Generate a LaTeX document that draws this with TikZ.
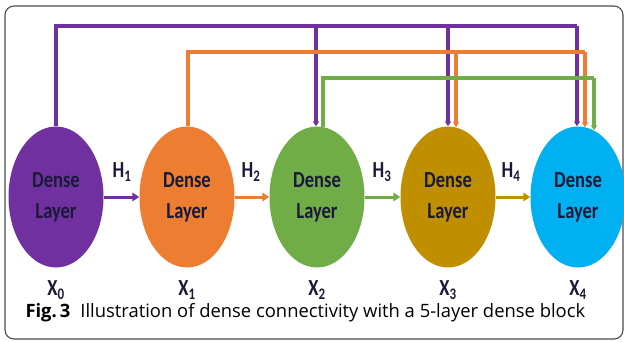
\documentclass[tikz,border=0pt]{standalone}
\usepackage{fontspec}
\usepackage{graphicx}
\setmainfont{Carlito}
\newfontfamily\capfont{Open Sans}
\usetikzlibrary{arrows.meta,positioning,calc,shapes.geometric}
\definecolor{lpurple}{HTML}{7030A0}
\definecolor{lorange}{HTML}{ED7D31}
\definecolor{lgreen}{HTML}{70AD47}
\definecolor{lgold}{HTML}{BF8F00}
\definecolor{lblue}{HTML}{00B0F0}
\definecolor{ink}{HTML}{1A1A38}
\newcommand{\tall}[1]{\scalebox{0.95}[1.18]{#1}}

\begin{document}
\begin{tikzpicture}[x=1pt,y=-1pt,
    layer/.style={ellipse,minimum width=95pt,minimum height=141pt,inner sep=0pt,
      font=\fontsize{19.5}{31}\selectfont\bfseries,text=ink,align=center},
    lab/.style={font=\fontsize{19.5}{20}\selectfont\bfseries,text=ink},
    flow/.style={line width=3pt,-{Triangle[length=7pt,width=8.5pt]}},
    rail/.style={line width=3.2pt},
    drop/.style={line width=3.2pt,-{Triangle[length=5pt,width=6pt]}}]
  \useasboundingbox (0,0) rectangle (624,341);
  \draw[black!70,line width=1.1pt,rounded corners=9pt] (5,6) rectangle (623,339);

  % dense layers
  \foreach \i/\x/\col in {0/56/lpurple,1/187/lorange,2/317/lgreen,3/448/lgold,4/578/lblue} {
    \node[layer,fill=\col] (L\i) at (\x,197) {\tall{Dense}\\\tall{Layer}};
    \node[lab] (X\i) at (\x,290) {\tall{X\textsubscript{\i}}};
  }

  % transitions
  \foreach \a/\b/\col/\x in {0/1/lpurple/122,1/2/lorange/251,2/3/lgreen/382,3/4/lgold/511} {
    \draw[flow,\col] (L\a.east) -- (L\b.west);
    \pgfmathtruncatemacro{\h}{\b}
    \node[lab] (H\h) at (\x,172) {\tall{H\textsubscript{\h}}};
  }

  % rails
  \coordinate (railA) at (0,26);
  \coordinate (railB) at (0,52);
  \coordinate (railC) at (0,78);

  % from X0
  \draw[rail,lpurple] (L0.north) |- ($(L4.north |- railA)+(-1,0)$) coordinate (pA4);
  \draw[drop,lpurple] ($(L2.north |- railA)+(-1,0)$) -- ($(L2.north)+(-1,0)$);
  \draw[drop,lpurple] (L3.north |- railA) -- (L3.north);
  \draw[drop,lpurple] (pA4) -- ($(L4.north)+(-1,0)$);

  % from X1
  \draw[rail,lorange] ($(L1.north)+(1,0)$) |- ($(L4.north |- railB)+(7,0)$) coordinate (pB4);
  \draw[drop,lorange] ($(L3.north |- railB)+(8,0)$) -- ($(L3.north)+(8,1)$);
  \draw[drop,lorange] (pB4) -- ($(L4.north)+(7,1)$);

  % from X2
  \draw[rail,lgreen] ($(L2.north)+(6,1)$) |- ($(L4.north |- railC)+(16,0)$) coordinate (pC4);
  \draw[drop,lgreen] (pC4) -- ($(L4.north)+(16,4)$);

  % caption
  \node[anchor=base west,font=\capfont\fontsize{18.4}{20}\selectfont] (cap) at (22,317)
    {\textbf{Fig.\,3}\hspace{10pt}Illustration of dense connectivity with a 5-layer dense block};
\end{tikzpicture}
\end{document}
